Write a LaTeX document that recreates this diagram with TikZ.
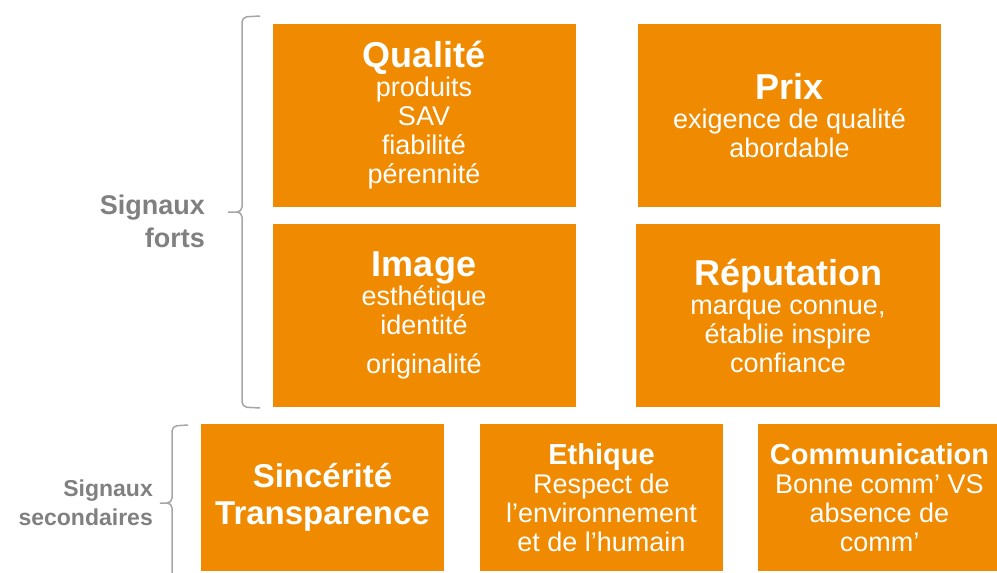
\documentclass[tikz,border=0pt]{standalone}
\usepackage{fontspec}
\setmainfont{Liberation Sans}
\usepackage{xcolor}

\definecolor{boxorange}{RGB}{240,138,0}
\definecolor{labelgray}{RGB}{128,128,128}
\definecolor{bracegray}{RGB}{166,166,166}

\newcommand{\bigttl}{\fontsize{36}{36}\selectfont\bfseries}
\newcommand{\smallttl}{\fontsize{29}{29}\selectfont\bfseries}

\tikzset{
  signal/.style={draw=none, fill=boxorange, text=white, align=center,
    inner sep=0pt, font=\fontsize{27}{29}\selectfont},
  strong/.style={signal, minimum width=303pt, minimum height=183pt},
  minor/.style={signal, minimum width=243pt, minimum height=147pt},
  sidelabel/.style={text=labelgray, align=right, anchor=east, inner sep=0pt,
    font=\fontsize{27}{33}\selectfont\bfseries},
  bracket/.style={draw=bracegray, line width=1.5pt, rounded corners=5pt}
}

\begin{document}
\begin{tikzpicture}[x=1pt, y=-1pt]

\useasboundingbox (0,0) rectangle (997,573);
\clip (0,0) rectangle (997,573);

% Draws the four strong signals
\node[strong] (qualite) at (424,115.5) {{\bigttl Qualité}\\ produits\\ SAV\\ fiabilité\\ pérennité};
\node[strong] (prix) at (789.5,115.5) {{\bigttl Prix}\\ exigence de qualité\\ abordable};
\node[strong] (image) at (424,315.5) {{\bigttl Image}\\ esthétique\\ identité\\[10pt] originalité};
\node[strong, minimum width=304pt] (reputation) at (788,315.5) {{\bigttl Réputation}\\ marque connue,\\ établie inspire\\ confiance};

% Draws the three secondary signals
\node[minor, font=\fontsize{33}{37}\selectfont\bfseries] (sincerite) at (322.5,497.5) {Sincérité\\ Transparence};
\node[minor] (ethique) at (601.5,497.5) {{\smallttl Ethique}\\ Respect de\\ l’environnement\\ et de l’humain};
\node[minor] (communication) at (879.5,497.5) {{\smallttl Communication}\\ Bonne comm’ VS\\ absence de\\ comm’};

% Brackets grouping the signals
\draw[bracket] (260,16) -- (242,17) -- (242,212) -- (225,212) -- (242,212) -- (242,407) -- (260,408);
\draw[bracket] (188,425) -- (172,426) -- (172,503) -- (157,503) -- (172,503) -- (172,590);

% Writes the names of the two groups
\node[sidelabel] (forts) at (205,221) {Signaux\\ forts};
\node[sidelabel, font=\fontsize{23}{29}\selectfont\bfseries] (secondaires) at (153,503) {Signaux\\ secondaires};

\end{tikzpicture}
\end{document}
